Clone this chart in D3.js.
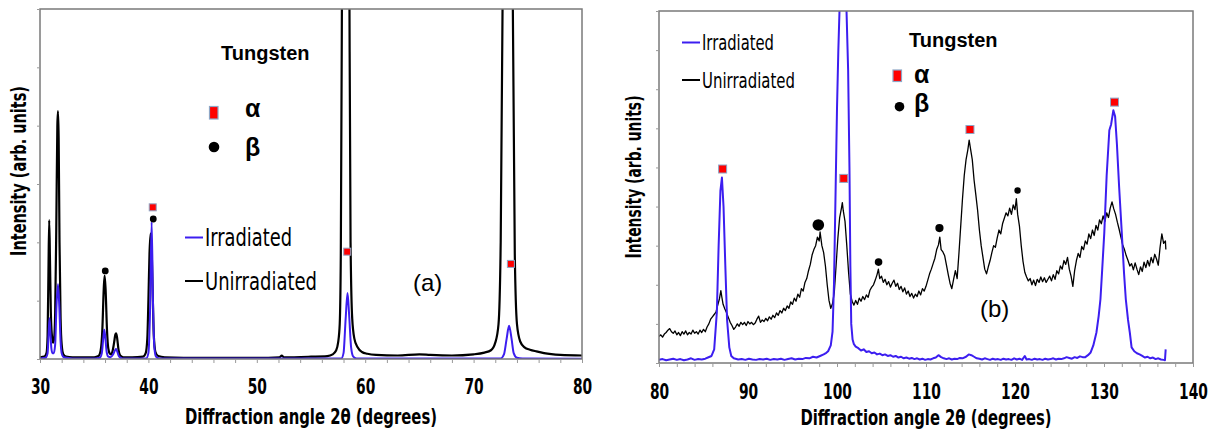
<!DOCTYPE html>
<html><head><meta charset="utf-8">
<script src="https://cdn.jsdelivr.net/npm/d3@7"></script>
<style>body{margin:0;background:#fff}svg{display:block}</style>
</head><body>
<svg id="c" width="1214" height="432"></svg>
<script>
// ---------------- DATA ----------------
// Panel (a): 2θ 30–80°, arbitrary intensity 0–600
const xTicksA = [30, 40, 50, 60, 70, 80];
const unirrA = [
[30.0,3],[30.4,4],[30.6,10],[30.7,40],[30.78,150],[30.85,238],[30.92,170],[31.0,80],[31.1,40],[31.2,28],
[31.3,35],[31.4,80],[31.5,220],[31.6,400],[31.66,425],[31.72,380],[31.8,200],[31.9,70],[32.0,25],[32.15,8],
[32.4,4],[33.0,3],[34.0,3],[35.0,3],[35.4,5],[35.6,15],[35.75,50],[35.88,120],[35.96,143],[36.05,120],
[36.18,50],[36.3,18],[36.45,9],[36.56,8],[36.7,14],[36.85,30],[36.95,42],[37.02,44],[37.1,38],[37.25,15],
[37.4,6],[37.7,3],[38.5,3],[39.5,4],[39.75,10],[39.9,35],[40.0,100],[40.1,180],[40.2,215],[40.3,190],
[40.4,110],[40.5,40],[40.65,12],[40.9,5],[41.5,3],[45,2],[50,2],[52.1,3],[52.3,6],[52.5,3],
[55,4],[56.5,5],[57.0,8],[57.3,14],[57.5,28],[57.65,60],[57.75,180],[57.85,600],[58.0,1500],[58.2,2000],
[58.4,1500],[58.55,600],[58.65,200],[58.8,70],[59.0,35],[59.3,20],[59.7,12],[60.2,9],[61,7],[63,6],
[65,8],[66,7],[68,6],[70,8],[71,11],[71.6,15],[72.0,28],[72.3,60],[72.5,200],[72.67,600],
[72.9,1800],[73.1,2200],[73.4,1800],[73.62,600],[73.8,180],[74.0,60],[74.3,30],[74.7,20],[75.2,16],[75.8,13],
[76.5,10],[78,7],[80,6]
];
const irrA = [
[30.0,1],[30.5,2],[30.7,10],[30.8,45],[30.88,70],[30.96,45],[31.05,18],[31.15,10],[31.27,10],[31.4,25],
[31.52,90],[31.66,128],[31.78,90],[31.9,30],[32.0,10],[32.2,3],[33,1],[35,1],[35.5,2],[35.7,10],
[35.85,38],[35.93,50],[36.02,38],[36.15,12],[36.3,4],[36.5,3],[36.75,8],[36.92,15],[37.02,17],[37.12,13],
[37.3,4],[37.6,1],[39.8,1],[40.0,10],[40.15,80],[40.3,235],[40.42,100],[40.55,20],[40.7,4],[41,1],
[57.8,1],[58.0,10],[58.2,70],[58.37,113],[58.52,75],[58.7,20],[58.9,4],[59.2,1],[72.5,1],[72.8,8],
[73.05,35],[73.27,57],[73.5,35],[73.7,10],[74,2],[74.5,1],[80,0.5]
];
const alphaA = [[40.4,260],[58.34,184],[73.44,163]];
const betaA  = [[36.02,151],[40.45,240]];

// Panel (b): 2θ 80–140°, arbitrary intensity 0–900
const xTicksB = [80, 90, 100, 110, 120, 130, 140];
const unirrB = [
[80.0,68],[80.2,72],[80.4,66],[80.6,74],[80.8,78],[81.0,84],[81.2,88],[81.4,80],[81.6,76],[81.8,82],
[82.0,72],[82.2,78],[82.4,70],[82.6,80],[82.8,74],[83.0,82],[83.2,72],[83.4,78],[83.6,74],[83.8,84],
[84.0,76],[84.2,80],[84.4,74],[84.6,84],[84.8,78],[85.0,86],[85.2,80],[85.4,92],[85.6,100],[85.8,112],
[86.0,118],[86.2,124],[86.4,130],[86.6,148],[86.8,165],[86.95,185],[87.05,170],[87.2,150],[87.4,138],[87.6,128],
[87.8,116],[88.0,104],[88.2,96],[88.4,86],[88.6,92],[88.8,100],[89.0,94],[89.2,104],[89.4,98],[89.6,104],
[89.8,96],[90.0,106],[90.2,100],[90.4,104],[90.6,98],[90.8,102],[91.0,112],[91.2,120],[91.4,104],[91.6,110],
[91.8,106],[92.0,114],[92.2,108],[92.4,118],[92.6,112],[92.8,122],[93.0,116],[93.2,128],[93.4,122],[93.6,134],
[93.8,128],[94.0,140],[94.2,134],[94.4,146],[94.6,140],[94.8,156],[95.0,150],[95.2,166],[95.4,158],[95.6,176],
[95.8,168],[96.0,190],[96.2,184],[96.4,206],[96.6,216],[96.8,236],[97.0,252],[97.2,276],[97.4,290],[97.6,300],
[97.8,322],[98.0,312],[98.1,335],[98.3,300],[98.5,282],[98.7,248],[98.9,200],[99.1,160],[99.3,140],[99.5,152],
[99.7,182],[99.9,250],[100.1,320],[100.3,372],[100.5,396],[100.6,410],[100.7,390],[100.9,362],[101.1,300],[101.3,232],
[101.5,176],[101.7,158],[101.9,148],[102.1,160],[102.3,150],[102.5,166],[102.7,158],[102.9,170],[103.1,162],[103.3,174],
[103.5,168],[103.7,186],[103.9,194],[104.1,200],[104.3,212],[104.5,226],[104.65,240],[104.8,216],[105.0,222],[105.2,206],
[105.4,214],[105.6,200],[105.8,208],[106.0,194],[106.2,204],[106.4,212],[106.6,196],[106.8,204],[107.0,188],[107.2,196],
[107.4,182],[107.6,192],[107.8,176],[108.0,184],[108.2,170],[108.4,178],[108.6,166],[108.8,176],[109.0,170],[109.2,184],
[109.4,174],[109.6,190],[109.8,184],[110.0,196],[110.2,212],[110.4,228],[110.6,240],[110.8,254],[111.0,268],[111.2,290],
[111.4,302],[111.55,322],[111.7,290],[111.9,284],[112.1,274],[112.3,250],[112.5,226],[112.7,204],[112.9,190],[113.1,214],
[113.3,236],[113.5,216],[113.7,280],[113.9,350],[114.1,420],[114.3,480],[114.5,520],[114.7,545],[114.85,570],[115.0,548],
[115.2,520],[115.4,468],[115.6,430],[115.8,390],[116.0,340],[116.2,300],[116.4,270],[116.6,240],[116.8,228],[117.0,246],
[117.2,262],[117.4,282],[117.6,300],[117.8,296],[118.0,320],[118.2,340],[118.4,330],[118.6,356],[118.8,370],[119.0,384],
[119.2,376],[119.4,396],[119.6,380],[119.8,404],[120.0,392],[120.15,420],[120.3,380],[120.5,350],[120.7,300],[120.9,260],
[121.1,232],[121.3,220],[121.5,210],[121.7,216],[121.9,200],[122.1,212],[122.3,198],[122.5,214],[122.7,206],[122.9,220],
[123.1,208],[123.3,218],[123.5,206],[123.7,214],[123.9,222],[124.1,210],[124.3,226],[124.5,214],[124.7,236],[124.9,228],
[125.1,248],[125.3,240],[125.5,262],[125.7,252],[125.9,270],[126.1,240],[126.3,222],[126.5,196],[126.7,236],[126.9,262],
[127.1,280],[127.3,270],[127.5,298],[127.7,290],[127.9,312],[128.1,304],[128.3,330],[128.5,318],[128.7,340],[128.9,326],
[129.1,352],[129.3,340],[129.5,366],[129.7,356],[129.9,376],[130.1,362],[130.3,384],[130.5,372],[130.7,396],[130.9,412],
[131.1,394],[131.3,380],[131.5,360],[131.7,342],[131.9,322],[132.1,302],[132.3,290],[132.5,274],[132.7,262],[132.9,248],
[133.1,254],[133.3,238],[133.5,256],[133.7,240],[133.9,226],[134.1,246],[134.3,234],[134.5,258],[134.7,244],[134.9,262],
[135.1,248],[135.3,270],[135.5,256],[135.7,278],[135.9,266],[136.1,250],[136.3,296],[136.5,330],[136.7,306],[136.9,312],
[136.95,290]
];
const irrB = [
[80.0,8],[80.4,10],[80.8,7],[81.2,9],[81.6,11],[82.0,8],[82.4,10],[82.8,7],[83.2,9],[83.6,12],
[84.0,8],[84.4,10],[84.8,9],[85.2,11],[85.5,14],[85.9,18],[86.2,35],[86.5,130],[86.7,300],[86.9,440],
[87.07,474],[87.25,400],[87.45,250],[87.65,110],[87.9,40],[88.12,18],[88.4,12],[88.9,9],[89.3,10],[89.7,8],
[90.1,11],[90.5,9],[90.9,8],[91.3,10],[91.7,9],[92.1,11],[92.5,8],[92.9,10],[93.3,9],[93.7,11],
[94.1,8],[94.5,10],[94.9,12],[95.3,9],[95.7,11],[96.1,10],[96.5,13],[96.9,12],[97.3,16],[97.7,14],
[98.1,18],[98.5,22],[98.8,26],[99.0,30],[99.3,45],[99.5,80],[99.66,200],[99.85,450],[100.0,650],[100.15,800],
[100.28,900],[100.6,1150],[100.75,1200],[100.9,1100],[101.07,900],[101.25,750],[101.4,500],[101.5,250],[101.6,100],[101.75,60],
[101.9,48],[102.1,42],[102.4,38],[102.7,32],[103.0,35],[103.3,28],[103.6,30],[103.9,25],[104.2,27],[104.5,22],
[104.8,24],[105.1,20],[105.4,22],[105.7,18],[106.0,20],[106.3,16],[106.6,18],[106.9,14],[107.2,16],[107.5,12],
[107.8,14],[108.1,11],[108.4,13],[108.7,10],[109.0,12],[109.3,9],[109.6,11],[109.9,8],[110.2,10],[110.5,9],
[110.8,12],[111.1,14],[111.4,20],[111.7,15],[112.0,12],[112.3,10],[112.6,12],[112.9,9],[113.2,11],[113.5,10],
[113.8,13],[114.1,12],[114.5,16],[114.8,22],[115.1,20],[115.4,16],[115.7,12],[116.0,11],[116.3,9],[116.6,12],
[116.9,10],[117.2,8],[117.5,11],[117.8,9],[118.1,10],[118.4,8],[118.7,11],[119.0,9],[119.3,10],[119.6,8],
[119.9,12],[120.2,9],[120.5,11],[120.8,8],[121.1,18],[121.3,9],[121.6,10],[121.9,8],[122.2,11],[122.5,9],
[122.8,10],[123.1,8],[123.4,11],[123.7,9],[124.0,10],[124.3,12],[124.6,9],[124.9,11],[125.2,10],[125.5,12],
[125.8,15],[126.1,13],[126.4,11],[126.7,15],[127.0,13],[127.3,17],[127.6,15],[127.9,15],[128.2,20],[128.5,27],
[128.8,45],[129.15,78],[129.4,120],[129.6,163],[129.8,240],[130.03,332],[130.3,480],[130.6,595],[130.8,610],[131.05,646],
[131.25,630],[131.45,560],[131.7,450],[132.0,332],[132.25,230],[132.45,163],[132.7,110],[132.9,78],[133.1,40],[133.4,30],
[133.7,25],[134.0,22],[134.3,18],[134.6,14],[134.9,16],[135.2,12],[135.5,14],[135.8,10],[136.1,12],[136.4,9],
[136.7,8],[136.85,7],[136.93,35]
];
const alphaB = [[87.15,496],[100.76,472],[114.94,597],[131.18,667]];
const betaB  = [[97.9,353],[104.67,258],[111.51,345],[120.29,441]];

// ---------------- STYLE ----------------
const BLUE = "#3c1ef0";
const narrowBold = "bold 21px 'Liberation Sans Narrow','Arial Narrow','DejaVu Sans Condensed',sans-serif";
const svg = d3.select("#c");

function fitText(sel, w) {
  sel.attr("textLength", w).attr("lengthAdjust", "spacingAndGlyphs");
}

function panel(o) {
  const g = svg.append("g");
  const x = d3.scaleLinear().domain(o.xDomain).range([o.x0, o.x1]);
  const y = d3.scaleLinear().domain(o.yDomain).range([o.y1, o.y0]);
  const clipId = "clip" + o.id;
  svg.append("clipPath").attr("id", clipId)
    .append("rect").attr("x", o.x0).attr("y", o.y0).attr("width", o.x1 - o.x0).attr("height", o.y1 - o.y0);

  const line = d3.line().x(d => x(d[0])).y(d => y(d[1])).curve(o.curve);
  const plot = g.append("g").attr("clip-path", `url(#${clipId})`);
  plot.append("path").datum(o.unirr).attr("d", line).attr("fill", "none")
    .attr("stroke", "#000").attr("stroke-width", o.blackW).attr("stroke-linejoin", "round");
  plot.append("path").datum(o.irr).attr("d", line).attr("fill", "none")
    .attr("stroke", BLUE).attr("stroke-width", o.blueW).attr("stroke-linejoin", "round");

  // frame
  g.append("rect").attr("x", o.x0).attr("y", o.y0).attr("width", o.x1 - o.x0).attr("height", o.y1 - o.y0)
    .attr("fill", "none").attr("stroke", "#7a7a7a").attr("stroke-width", 1.5);

  // x axis
  const xa = g.append("g").attr("transform", `translate(0,${o.y1})`)
    .call(d3.axisBottom(x).tickValues(d3.range(o.xDomain[0], o.xDomain[1] + 0.1, 2))
      .tickFormat(d => o.xLabels.includes(d) ? d : "").tickSize(4).tickSizeOuter(0));
  xa.select(".domain").remove();
  xa.selectAll("line").attr("stroke", "#999");
  xa.selectAll("text").attr("y", o.tickDy).attr("dy", 0).style("font", narrowBold).attr("fill", "#000")
    .each(function(d) { const t = String(d); if (o.xLabels.includes(d)) fitText(d3.select(this), t.length * 9.6); });

  // y axis (unlabelled ticks)
  const ya = g.append("g").attr("transform", `translate(${o.x0},0)`)
    .call(d3.axisLeft(y).tickValues(d3.range(o.yDomain[0], o.yDomain[1] + 1, 100)).tickFormat("").tickSize(3).tickSizeOuter(0));
  ya.select(".domain").remove();
  ya.selectAll("line").attr("stroke", "#999");

  // titles
  const xt = g.append("text").attr("x", (o.x0 + o.x1) / 2).attr("y", o.titleY).attr("text-anchor", "middle")
    .style("font", narrowBold).text(o.xTitle);
  fitText(xt, o.xTitleW);
  const yt = g.append("text").attr("transform", `translate(${o.yTitleX},${o.yTitleY}) rotate(-90)`)
    .attr("text-anchor", "middle").style("font", narrowBold).text("Intensity (arb. units)");
  fitText(yt, o.yTitleW);

  // phase markers
  g.selectAll(".sq").data(o.alpha).enter().append("rect")
    .attr("x", d => x(d[0]) - o.sqW / 2).attr("y", d => y(d[1]) - o.sqH / 2)
    .attr("width", o.sqW).attr("height", o.sqH).attr("fill", "#ff0000").attr("stroke", "#8ea6c6").attr("stroke-width", 1);
  g.selectAll(".ci").data(o.beta).enter().append("circle")
    .attr("cx", d => x(d[0])).attr("cy", d => y(d[1])).attr("r", (d, i) => o.circR[i]).attr("fill", "#000");
  return g;
}

const ga = panel({
  id: "a", xDomain: [30, 80], yDomain: [0, 600], x0: 40, x1: 582, y0: 9, y1: 359,
  unirr: unirrA, irr: irrA, alpha: alphaA, beta: betaA, xLabels: xTicksA,
  curve: d3.curveMonotoneX, blackW: 2.2, blueW: 2,
  tickDy: 35, titleY: 424, xTitle: "Diffraction angle 2\u03b8 (degrees)", xTitleW: 252,
  yTitleX: 26, yTitleY: 171, yTitleW: 170, sqW: 7, sqH: 7, circR: [3.4, 3.4]
});
const gb = panel({
  id: "b", xDomain: [80, 140], yDomain: [0, 900], x0: 659, x1: 1193, y0: 11, y1: 363,
  unirr: unirrB, irr: irrB, alpha: alphaB, beta: betaB, xLabels: xTicksB,
  curve: d3.curveLinear, blackW: 1.3, blueW: 2,
  tickDy: 36, titleY: 425, xTitle: "Diffraction angle 2\u03b8  (degrees)", xTitleW: 251,
  yTitleX: 641, yTitleY: 177, yTitleW: 163, sqW: 8, sqH: 8, circR: [5.8, 3.8, 4.1, 3.2]
});

// ---------------- LEGENDS / ANNOTATIONS ----------------
const reg = "'Liberation Sans Narrow','Arial Narrow','DejaVu Sans Condensed',sans-serif";
function seriesLegend(x, yIrr, yUn, size, wI, wU) {
  svg.append("line").attr("x1", x).attr("x2", x + 18).attr("y1", yIrr).attr("y2", yIrr).attr("stroke", BLUE).attr("stroke-width", 2);
  svg.append("line").attr("x1", x).attr("x2", x + 18).attr("y1", yUn).attr("y2", yUn).attr("stroke", "#000").attr("stroke-width", 2);
  fitText(svg.append("text").attr("x", x + 20).attr("y", yIrr + size * 0.36).style("font-family", reg).style("font-size", size + "px").text("Irradiated"), wI);
  fitText(svg.append("text").attr("x", x + 20).attr("y", yUn + size * 0.36).style("font-family", reg).style("font-size", size + "px").text("Unirradiated"), wU);
}
seriesLegend(185, 237.5, 281, 24, 87, 112);
seriesLegend(682, 42.5, 80, 21, 72, 93);

function phaseLegend(tx, ty, sx, sy, sw, sh, cx, cy, cr, ax, ay, by) {
  svg.append("text").attr("x", tx).attr("y", ty).style("font", "bold 20px 'Liberation Sans',Arial,sans-serif").text("Tungsten");
  svg.append("rect").attr("x", sx).attr("y", sy).attr("width", sw).attr("height", sh).attr("fill", "#ff0000").attr("stroke", "#8ea6c6").attr("stroke-width", 1.2);
  svg.append("circle").attr("cx", cx).attr("cy", cy).attr("r", cr).attr("fill", "#000");
  svg.append("text").attr("x", ax).attr("y", ay).style("font", "bold 25px 'Liberation Sans',Arial,sans-serif").text("\u03b1");
  svg.append("text").attr("x", ax).attr("y", by).style("font", "bold 25px 'Liberation Sans',Arial,sans-serif").text("\u03b2");
}
phaseLegend(221, 60, 209.5, 106.5, 8.5, 12.5, 214, 147, 5.3, 245, 116.5, 156);
phaseLegend(909, 47, 893, 70, 8.5, 11.5, 899.5, 106.7, 4.8, 914, 83, 112);

svg.append("text").attr("x", 413).attr("y", 291).style("font", "24px 'Liberation Sans',Arial,sans-serif").text("(a)");
svg.append("text").attr("x", 980).attr("y", 317).style("font", "24px 'Liberation Sans',Arial,sans-serif").text("(b)");
</script>
</body></html>
